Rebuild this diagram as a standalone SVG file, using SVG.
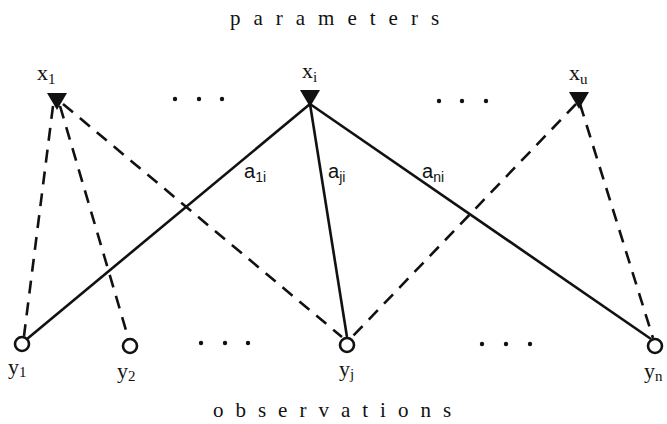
<svg xmlns="http://www.w3.org/2000/svg" width="667" height="424" viewBox="0 0 667 424">
<style>
.t{font-family:"Liberation Serif","Times New Roman",serif;fill:#111}
.s{font-family:"Liberation Sans",Arial,sans-serif;fill:#111}
.solid{stroke:#111;stroke-width:2.6;fill:none}
.dash{stroke:#111;stroke-width:2.6;fill:none;stroke-dasharray:13 9}
.tri{fill:#111}
.obs{fill:#fff;stroke:#111;stroke-width:2.6}
.dot{fill:#111}
</style>
<rect width="667" height="424" fill="#fff"/>
<text class="t" x="341" y="25" font-size="21" text-anchor="middle" letter-spacing="13">parameters</text>
<text class="t" x="338" y="417" font-size="21" text-anchor="middle" letter-spacing="12">observations</text>
<g id="connectors">
<line class="dash" x1="53" y1="106" x2="24" y2="336"/>
<line class="dash" x1="60" y1="106" x2="128" y2="337"/>
<line class="dash" x1="63" y1="104" x2="342" y2="337"/>
<line class="dash" x1="576" y1="104" x2="352" y2="337"/>
<line class="dash" x1="580" y1="104" x2="653" y2="338"/>
<line class="solid" x1="27" y1="339" x2="310" y2="104"/>
<line class="solid" x1="310" y1="104" x2="347" y2="337"/>
<line class="solid" x1="310" y1="104" x2="651" y2="339"/>
<text class="s" x="244" y="178" font-size="20">a<tspan font-size="14" dy="4">1i</tspan></text>
<text class="s" x="328" y="178" font-size="20">a<tspan font-size="14" dy="4">ji</tspan></text>
<text class="s" x="422" y="178" font-size="20">a<tspan font-size="14" dy="4">ni</tspan></text>
</g>
<g id="x1"><polygon class="tri" points="47,93 67,93 57,110"/><text class="t" x="37" y="80" font-size="22">x<tspan font-size="15" dy="4">1</tspan></text></g>
<g id="xi"><polygon class="tri" points="300,90 320,90 310,107"/><text class="t" x="302" y="78" font-size="22">x<tspan font-size="15" dy="4">i</tspan></text></g>
<g id="xu"><polygon class="tri" points="569,92 589,92 579,109"/><text class="t" x="569" y="80" font-size="22">x<tspan font-size="15" dy="4">u</tspan></text></g>
<g id="dots-top"><circle class="dot" cx="175" cy="99" r="2.2"/><circle class="dot" cx="199" cy="99" r="2.2"/><circle class="dot" cx="222" cy="99" r="2.2"/><circle class="dot" cx="439" cy="101" r="2.2"/><circle class="dot" cx="462" cy="101" r="2.2"/><circle class="dot" cx="486" cy="101" r="2.2"/></g>
<g id="dots-bottom"><circle class="dot" cx="201" cy="343" r="2.2"/><circle class="dot" cx="225" cy="343" r="2.2"/><circle class="dot" cx="248" cy="343" r="2.2"/><circle class="dot" cx="482" cy="344" r="2.2"/><circle class="dot" cx="506" cy="344" r="2.2"/><circle class="dot" cx="530" cy="344" r="2.2"/></g>
<g id="y1"><circle class="obs" cx="22" cy="344" r="7"/><text class="t" x="8" y="374" font-size="22">y<tspan font-size="15" dy="3">1</tspan></text></g>
<g id="y2"><circle class="obs" cx="130" cy="346" r="7"/><text class="t" x="117" y="378" font-size="22">y<tspan font-size="15" dy="3">2</tspan></text></g>
<g id="yj"><circle class="obs" cx="347" cy="345" r="7"/><text class="t" x="339" y="376" font-size="22">y<tspan font-size="15" dy="3">j</tspan></text></g>
<g id="yn"><circle class="obs" cx="655" cy="346" r="7"/><text class="t" x="644" y="378" font-size="22">y<tspan font-size="15" dy="3">n</tspan></text></g>
</svg>
